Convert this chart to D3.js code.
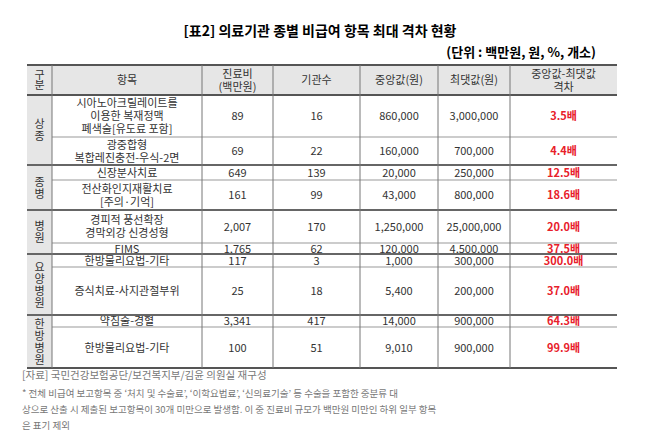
<!DOCTYPE html><html><head><meta charset="utf-8"><script src="https://cdn.jsdelivr.net/npm/d3@7"></script>
<style>body{margin:0;background:#fff}</style></head><body><svg id="c" width="650" height="444"></svg>
<script>
const headers=["구\n분","항목","진료비\n(백만원)","기관수","중앙값(원)","최댓값(원)","중앙값-최댓값\n격차"];
const groups=[["상\n종",0,2],["종\n병",2,4],["병\n원",4,6],["요\n양\n병\n원",6,8],["한\n방\n병\n원",8,10]];
const items=["시아노아크릴레이트를\n이용한 복재정맥\n폐색술[유도료 포함]","광중합형\n복합레진충전-우식-2면","신장분사치료","전산화인지재활치료\n[주의·기억]","경피적 풍선확장\n경막외강 신경성형","FIMS","한방물리요법-기타","증식치료-사지관절부위","약침술-경혈","한방물리요법-기타"];
const cost=["89","69","649","161","2,007","1,765","117","25","3,341","100"];
const inst=["16","22","139","99","170","62","3","18","417","51"];
const median=["860,000","160,000","20,000","43,000","1,250,000","120,000","1,000","5,400","14,000","9,010"];
const maxv=["3,000,000","700,000","250,000","800,000","25,000,000","4,500,000","300,000","200,000","900,000","900,000"];
const gap=["3.5배","4.4배","12.5배","18.6배","20.0배","37.5배","300.0배","37.0배","64.3배","99.9배"];
const rowH=[42,28,15,30,33,11,13,48,12,41];
const colX=[27,52,202,273,360,438,510,617];
const svg=d3.select("#c");
const F="'Noto Sans CJK KR','Noto Sans',sans-serif";
svg.append("text").attr("x",320).attr("y",36).attr("text-anchor","middle").attr("font-family",F).attr("font-weight","bold").attr("font-size",14).text("[표2] 의료기관 종별 비급여 항목 최대 격차 현황");
svg.append("text").attr("x",596).attr("y",57).attr("text-anchor","end").attr("font-family",F).attr("font-weight","bold").attr("font-size",13).text("(단위 : 백만원, 원, %, 개소)");
const topY=65,hdrB=95;
const ys=[hdrB,...d3.cumsum(rowH).map(v=>hdrB+v)];
const bottom=ys[10];
svg.append("rect").attr("x",colX[0]).attr("y",topY).attr("width",colX[7]-colX[0]).attr("height",hdrB-topY).attr("fill","#e6e6e6");
svg.append("rect").attr("x",colX[0]).attr("y",hdrB).attr("width",colX[1]-colX[0]).attr("height",bottom-hdrB).attr("fill","#e6e6e6");
function ml(x,y,txt,opt={}){const lines=txt.split("\n");const lh=opt.lh||12;const t=svg.append("text").attr("x",x).attr("text-anchor","middle").attr("font-family",F).attr("font-size",opt.fs||11).attr("fill",opt.fill||"#333").attr("font-weight",opt.fw||"normal");
lines.forEach((l,i)=>t.append("tspan").attr("x",x).attr("y",y+(i-(lines.length-1)/2)*lh+4).text(l));}
headers.forEach((h,i)=>ml((colX[i]+colX[i+1])/2,(topY+hdrB)/2,h,{lh:i==0?10:13}));
const cols=[items,cost,inst,median,maxv,gap];
for(let r=0;r<10;r++){const cy=(ys[r]+ys[r+1])/2;
cols.forEach((c,j)=>ml((colX[j+1]+colX[j+2])/2,cy,c[r],{lh:13,fill:j==5?"#e8202a":"#333",fw:j==5?"bold":"normal"}));}
groups.forEach(g=>ml((colX[0]+colX[1])/2,(ys[g[1]]+ys[g[2]])/2,g[0],{lh:12,fs:11}));
const gb=new Set(groups.map(g=>g[1]));
for(let r=1;r<10;r++){svg.append("line").attr("x1",gb.has(r)?colX[0]:colX[1]).attr("x2",colX[7]).attr("y1",ys[r]).attr("y2",ys[r]).attr("stroke",gb.has(r)?"#666":"#999").attr("stroke-width",gb.has(r)?2:1);}
[topY,hdrB,bottom].forEach(y=>svg.append("line").attr("x1",colX[0]).attr("x2",colX[7]).attr("y1",y).attr("y2",y).attr("stroke","#555").attr("stroke-width",2));
colX.slice(1,7).forEach(x=>svg.append("line").attr("x1",x).attr("x2",x).attr("y1",topY).attr("y2",bottom).attr("stroke","#777").attr("stroke-width",1));
const notes=["[자료] 국민건강보험공단/보건복지부/김윤 의원실 재구성","* 전체 비급여 보고항목 중 ‘처치 및 수술료’, ‘이학요법료’, ‘신의료기술’ 등 수술을 포함한 중분류 대","상으로 산출 시 제출된 보고항목이 30개 미만으로 발생함. 이 중 진료비 규모가 백만원 미만인 하위 일부 항목","은 표기 제외"];
[375,393,409,425].forEach((y,i)=>svg.append("text").attr("x",22).attr("y",y+4).attr("font-family",F).attr("font-size",i==0?10.5:9.5).attr("fill","#777").text(notes[i]));
</script></body></html>
